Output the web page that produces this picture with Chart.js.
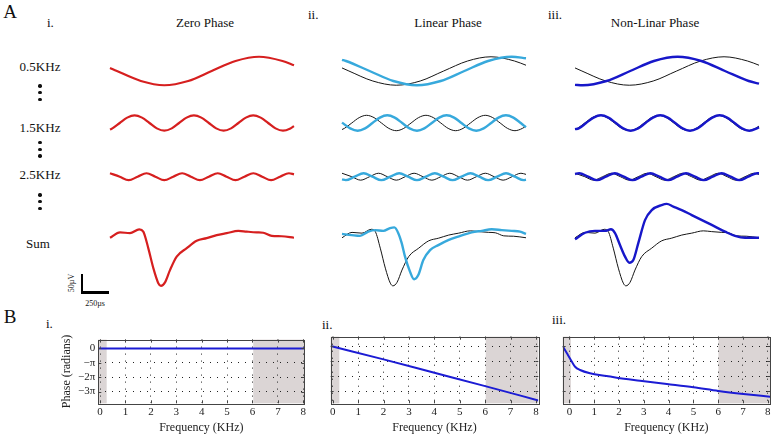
<!DOCTYPE html>
<html>
<head>
<meta charset="utf-8">
<script src="https://cdn.jsdelivr.net/npm/chart.js@4.4.1/dist/chart.umd.min.js"></script>
<style>
    body { margin: 0; width: 773px; height: 436px; position: relative; overflow: hidden; background: #fff;
           font-family: 'Liberation Serif', 'Times New Roman', serif; color: #111; }
    canvas { position: absolute; }
    .t { position: absolute; white-space: nowrap; line-height: 1; font-size: 13px; }
    .c { transform: translate(-50%, -50%); }
    .big { font-size: 19px; }
    .dot { position: absolute; width: 3.4px; height: 3.4px; border-radius: 50%; background: #111; }
    .bar { position: absolute; background: #000; }
</style>
</head>
<body>
<!-- panel labels -->
<div class="t c big" style="left:10px;top:11px">A</div>
<div class="t" style="left:47px;top:16px">i.</div>
<div class="t c" style="left:205px;top:22px">Zero Phase</div>
<div class="t" style="left:308px;top:8px">ii.</div>
<div class="t c" style="left:448px;top:22px">Linear Phase</div>
<div class="t" style="left:548px;top:8px">iii.</div>
<div class="t c" style="left:655px;top:22px">Non-Linar Phase</div>

<div class="t c" style="left:40px;top:66px">0.5KHz</div>
<div class="t c" style="left:40px;top:127px">1.5KHz</div>
<div class="t c" style="left:40px;top:174px">2.5KHz</div>
<div class="t c" style="left:38px;top:243px">Sum</div>

<div class="dot" style="left:38.3px;top:84.3px"></div>
<div class="dot" style="left:38.3px;top:91px"></div>
<div class="dot" style="left:38.3px;top:97.6px"></div>
<div class="dot" style="left:38.3px;top:141px"></div>
<div class="dot" style="left:38.3px;top:147.6px"></div>
<div class="dot" style="left:38.3px;top:154.3px"></div>
<div class="dot" style="left:38.3px;top:193.3px"></div>
<div class="dot" style="left:38.3px;top:200px"></div>
<div class="dot" style="left:38.3px;top:206.6px"></div>

<!-- scale bar -->
<div class="bar" style="left:81px;top:274px;width:2.4px;height:19.5px"></div>
<div class="bar" style="left:81px;top:291px;width:28px;height:2.5px"></div>
<div class="t c" style="left:72px;top:283px;font-size:8px;transform:translate(-50%,-50%) rotate(-90deg)">50µV</div>
<div class="t c" style="left:95px;top:304px;font-size:8px">250µs</div>

<div class="t c big" style="left:10px;top:316px">B</div>
<div class="t" style="left:46px;top:317px">i.</div>
<div class="t" style="left:322px;top:318px">ii.</div>
<div class="t" style="left:552px;top:313px">iii.</div>

<script>
// ---- panel A: waveforms, time in µs, amplitude in µV ----
const TIME_Z05 = [0, 75, 335, 590, 850, 1105, 1365, 1620, 1875, 2000];
const ZERO_05 = [8, 0, -26, -37, -26, 0, 26, 37, 26, 15];
const TIME_Z15 = [0, 26, 106, 187, 267, 348, 429, 509, 590, 671, 751, 832, 912, 993, 1074, 1154, 1235, 1316, 1396, 1477, 1557, 1638, 1719, 1799, 1880, 1961, 2000];
const ZERO_15 = [-17, -14, 0, 14, 20, 14, 0, -14, -20, -14, 0, 14, 20, 14, 0, -14, -20, -14, 0, 14, 20, 14, 0, -14, -20, -14, -8];
const TIME_Z25 = [0, 106, 203, 300, 397, 493, 590, 687, 784, 880, 977, 1074, 1171, 1267, 1364, 1461, 1558, 1654, 1751, 1848, 1945, 2000];
const ZERO_25 = [9, 0, -9, 0, 9, 0, -9, 0, 9, 0, -9, 0, 9, 0, -9, 0, 9, 0, -9, 0, 9, 6];
const TIME_ZSUM = [0, 109, 217, 318, 362, 416, 471, 525, 554, 598, 652, 725, 834, 942, 1051, 1160, 1269, 1395, 1486, 1595, 1666, 1758, 1866, 2000];
const ZERO_SUM = [-2, 12, 10, 20, 14, -29, -81, -120, -127, -118, -86, -51, -29, -10, -3, 5, 10, 16, 14, 12, 11, 3, 2, -2];

const TIME_L05 = [0, 43, 300, 558, 815, 1073, 1330, 1588, 1845, 2000];
const LIN_05 = [29, 26, 0, -26, -37, -26, 0, 26, 37, 33];
const TIME_L15 = [0, 89, 170, 251, 331, 412, 492, 573, 654, 734, 815, 895, 976, 1057, 1137, 1218, 1298, 1379, 1460, 1540, 1621, 1701, 1782, 1863, 1943, 2000];
const LIN_15 = [1, -14, -20, -14, 0, 14, 20, 14, 0, -14, -20, -14, 0, 14, 20, 14, 0, -14, -20, -14, 0, 14, 20, 14, 0, -11];
const TIME_L25 = [0, 41, 138, 235, 331, 428, 525, 622, 718, 815, 912, 1009, 1105, 1202, 1299, 1396, 1492, 1589, 1686, 1783, 1879, 1976, 2000];
const LIN_25 = [-7, -9, 0, 9, 0, -9, 0, 9, 0, -9, 0, 9, 0, -9, 0, 9, 0, -9, 0, 9, 0, -9, -8];
const TIME_LSUM = [0, 105, 196, 286, 359, 449, 522, 569, 612, 649, 685, 739, 783, 829, 884, 957, 1047, 1155, 1264, 1410, 1519, 1627, 1736, 1845, 1935, 2000];
const LIN_SUM = [8, 5, 3, 14, 18, 16, 23, 25, 10, -16, -51, -90, -110, -99, -60, -34, -21, -8, 1, 12, 16, 20, 18, 16, 14, 8];

const TIME_N05 = [0, 85, 343, 600, 858, 1115, 1373, 1630, 1888, 2000];
const NONLIN_05 = [-36, -37, -26, 0, 26, 37, 26, 0, -26, -33];
const TIME_N15 = [0, 41, 121, 202, 282, 363, 444, 524, 605, 686, 766, 847, 927, 1008, 1089, 1169, 1250, 1331, 1411, 1492, 1572, 1653, 1734, 1814, 1895, 1976, 2000];
const NONLIN_15 = [-16, -14, 0, 14, 20, 14, 0, -14, -20, -14, 0, 14, 20, 14, 0, -14, -20, -14, 0, 14, 20, 14, 0, -14, -20, -14, -11];
const TIME_N25 = [0, 46, 143, 239, 336, 433, 530, 626, 723, 820, 917, 1013, 1110, 1207, 1304, 1400, 1497, 1594, 1691, 1787, 1884, 1981, 2000];
const NONLIN_25 = [7, 9, 0, -9, 0, 9, 0, -9, 0, 9, 0, -9, 0, 9, 0, -9, 0, 9, 0, -9, 0, 9, 9];
const TIME_NSUM = [0, 109, 217, 326, 391, 435, 489, 544, 590, 634, 688, 761, 834, 942, 997, 1069, 1160, 1269, 1413, 1522, 1631, 1739, 1848, 2000];
const NONLIN_SUM = [-6, 11, 16, 16, 20, 10, -21, -51, -67, -60, -16, 44, 70, 83, 86, 79, 70, 57, 40, 27, 14, 3, -2, -2];

// ---- panel B: phase (radians) vs frequency (KHz) ----
const FREQ_ZERO = [-0.07, 8.04];
const PHASE_ZERO = [0, 0];
const FREQ_LIN = [-0.08, 2, 4, 6, 8.09];
const PHASE_LIN = [0, -2.8, -5.6, -8.4, -11.4];
const FREQ_NONLIN = [-0.27, -0.1, 0.1, 0.23, 0.43, 0.83, 1.5, 1.91, 2.85, 3.93, 5.0, 6.01, 7.02, 8.1];
const PHASE_NONLIN = [0, -1.54, -3.3, -4.34, -5.03, -5.72, -6.28, -6.63, -7.26, -7.95, -8.64, -9.42, -10.05, -10.62];
const FREQ_TICKS = [0, 1, 2, 3, 4, 5, 6, 7, 8];
const PHASE_TICKS = [0, -1, -2, -3];           // multiples of pi
const PHASE_TICK_LABELS = ['0', '\u2212\u03c0', '\u22122\u03c0', '\u22123\u03c0'];
const SHADE_I = [[-0.07, 0.26], [6.03, 8.04]];
const SHADE_II = [[-0.08, 0.26], [6.02, 8.09]];
const SHADE_III = [[-0.27, 0.06], [6.01, 8.09]];

const FONT = "'Liberation Serif', 'Times New Roman', serif";
Chart.defaults.font.family = FONT;
Chart.defaults.color = '#222';

const RED = '#d61f1f', CYAN = '#37a9dc', BLUE = '#1717c9', BLACK = '#151515';
const UV_PER_PX = 2.6;               // 50 µV bar is ~19 px
const COLS = [110, 342, 575];
const COL_W = 184;
const ROWS = [[46, 50, 71], [100, 46, 123], [162, 30, 176.7], [190, 105, 237]]; // top, height, baseline

function xy(ts, vs) {
    return ts.map((t, i) => ({ x: t, y: vs[i] }));
}

function waveChart(col, row, sets) {
    const [top, h, base] = ROWS[row];
    const cv = document.createElement('canvas');
    cv.width = COL_W + 8;
    cv.height = h;
    cv.style.left = (COLS[col] - 4) + 'px';
    cv.style.top = top + 'px';
    document.body.appendChild(cv);
    new Chart(cv.getContext('2d'), {
        type: 'line',
        data: {
            datasets: sets.map(s => ({
                data: xy(s.t, s.v),
                borderColor: s.color,
                borderWidth: s.w,
                pointRadius: 0,
                cubicInterpolationMode: 'monotone',
                clip: false,
                fill: false
            }))
        },
        options: {
            responsive: false,
            animation: false,
            events: [],
            layout: { padding: { left: 4, right: 4, top: 0, bottom: 0 } },
            plugins: { legend: { display: false }, tooltip: { enabled: false } },
            scales: {
                x: { type: 'linear', display: false, min: 0, max: 2000 },
                y: { display: false, min: -(top + h - base) * UV_PER_PX, max: (base - top) * UV_PER_PX }
            }
        }
    });
}

const zero = [[TIME_Z05, ZERO_05], [TIME_Z15, ZERO_15], [TIME_Z25, ZERO_25], [TIME_ZSUM, ZERO_SUM]];
const lin = [[TIME_L05, LIN_05], [TIME_L15, LIN_15], [TIME_L25, LIN_25], [TIME_LSUM, LIN_SUM]];
const nonlin = [[TIME_N05, NONLIN_05], [TIME_N15, NONLIN_15], [TIME_N25, NONLIN_25], [TIME_NSUM, NONLIN_SUM]];

for (let r = 0; r < 4; r++) {
    const ref = { t: zero[r][0], v: zero[r][1], color: BLACK, w: 1 };
    waveChart(0, r, [{ t: zero[r][0], v: zero[r][1], color: RED, w: 2.2 }]);
    waveChart(1, r, [{ t: lin[r][0], v: lin[r][1], color: CYAN, w: 2.4 }, ref]);
    waveChart(2, r, [{ t: nonlin[r][0], v: nonlin[r][1], color: BLUE, w: 2.4 }, ref]);
}

// shaded bands, box frame and inward ticks
const framePlugin = {
    id: 'frame',
    beforeDraw(chart, args, opts) {
        const { ctx, chartArea: a, scales: { x } } = chart;
        ctx.save();
        ctx.fillStyle = '#dbd5d5';
        opts.bands.forEach(b => {
            const p0 = x.getPixelForValue(b[0]), p1 = x.getPixelForValue(b[1]);
            ctx.fillRect(p0, a.top, p1 - p0, a.bottom - a.top);
        });
        ctx.restore();
    },
    afterDraw(chart) {
        const { ctx, chartArea: a, scales: { x, y } } = chart;
        ctx.save();
        ctx.strokeStyle = '#444';
        ctx.lineWidth = 1;
        ctx.beginPath();
        FREQ_TICKS.forEach(f => {
            const p = Math.round(x.getPixelForValue(f)) + 0.5;
            ctx.moveTo(p, a.bottom); ctx.lineTo(p, a.bottom - 3);
            ctx.moveTo(p, a.top); ctx.lineTo(p, a.top + 3);
        });
        PHASE_TICKS.forEach(k => {
            const p = Math.round(y.getPixelForValue(k * Math.PI)) + 0.5;
            ctx.moveTo(a.left, p); ctx.lineTo(a.left + 3, p);
            ctx.moveTo(a.right, p); ctx.lineTo(a.right - 3, p);
        });
        ctx.stroke();
        ctx.strokeRect(Math.round(a.left) + 0.5, Math.round(a.top) + 0.5,
            Math.round(a.right - a.left), Math.round(a.bottom - a.top));
        ctx.restore();
    }
};

function phaseChart(cfg) {
    const cv = document.createElement('canvas');
    cv.width = cfg.width;
    cv.height = 106;
    cv.style.left = cfg.left + 'px';
    cv.style.top = '330px';
    document.body.appendChild(cv);
    new Chart(cv.getContext('2d'), {
        type: 'line',
        data: {
            datasets: [{
                data: xy(cfg.freq, cfg.phase),
                borderColor: '#1c1cd4',
                borderWidth: 2,
                pointRadius: 0,
                cubicInterpolationMode: 'monotone'
            }]
        },
        options: {
            responsive: false,
            animation: false,
            events: [],
            layout: { padding: { left: cfg.padLeft, right: cfg.padRight, top: 6.7, bottom: 0 } },
            plugins: { legend: { display: false }, tooltip: { enabled: false }, frame: { bands: cfg.bands } },
            scales: {
                x: {
                    type: 'linear', min: cfg.xMin, max: cfg.xMax,
                    afterBuildTicks: s => { s.ticks = FREQ_TICKS.map(v => ({ value: v })); },
                    afterFit: s => { s.height = 32.7; },
                    grid: { drawTicks: false, color: '#222', lineWidth: 1 },
                    border: { display: false, dash: [1, 6] },
                    ticks: { padding: 2, font: { size: 11 }, color: '#222', maxRotation: 0, callback: v => String(v) },
                    title: { display: true, text: 'Frequency (KHz)', font: { size: 12 }, color: '#222', padding: { top: 0, bottom: 1 } }
                },
                y: {
                    min: -3.82 * Math.PI, max: 0.62 * Math.PI,
                    afterBuildTicks: s => { s.ticks = PHASE_TICKS.map(k => ({ value: k * Math.PI })); },
                    afterFit: s => { s.width = cfg.yWidth; },
                    grid: { drawTicks: false, color: '#222', lineWidth: 1 },
                    border: { display: false, dash: [1, 6] },
                    ticks: { display: cfg.showY, padding: 3, font: { size: 11 }, color: '#222', callback: (v, i) => PHASE_TICK_LABELS[i] },
                    title: { display: cfg.showY, text: 'Phase (radians)', font: { size: 12 }, color: '#222', padding: { top: 4, bottom: 0 } }
                }
            }
        },
        plugins: [framePlugin]
    });
}

phaseChart({ left: 0, width: 310, padLeft: 55.5, padRight: 5.7, yWidth: 42.8, showY: true,
             xMin: -0.07, xMax: 8.04, bands: SHADE_I, freq: FREQ_ZERO, phase: PHASE_ZERO });
phaseChart({ left: 310, width: 233, padLeft: 0, padRight: 4.7, yWidth: 20.7, showY: false,
             xMin: -0.08, xMax: 8.09, bands: SHADE_II, freq: FREQ_LIN, phase: PHASE_LIN });
phaseChart({ left: 543, width: 230, padLeft: 0, padRight: 3, yWidth: 19.7, showY: false,
             xMin: -0.27, xMax: 8.09, bands: SHADE_III, freq: FREQ_NONLIN, phase: PHASE_NONLIN });
</script>
</body>
</html>
